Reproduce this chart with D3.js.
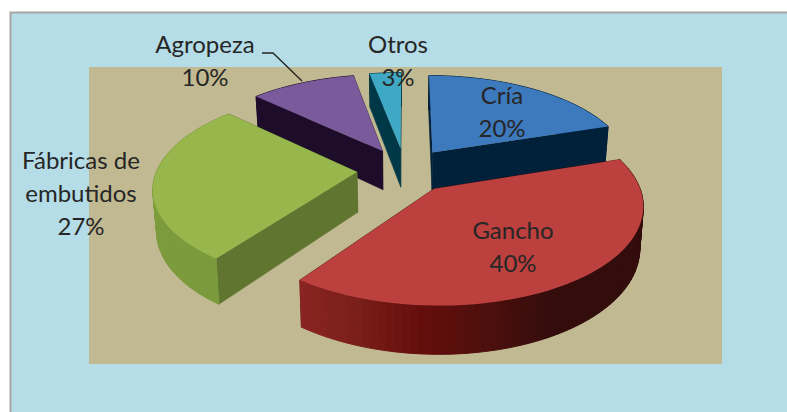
<!DOCTYPE html>
<html><head><meta charset="utf-8">
<script src="https://cdnjs.cloudflare.com/ajax/libs/d3/7.8.5/d3.min.js"></script>
<style>html,body{margin:0;padding:0;background:#fff}svg{display:block}text{font-family:Lato,"Open Sans",sans-serif;fill:#262626;font-size:24px;text-anchor:middle}</style>
</head><body><svg id="c" width="787" height="412"></svg>
<script>
const categories = ["Cría","Gancho","Fábricas de embutidos","Agropeza","Otros"];
const shares = [20,40,27,10,3];
const topColors = ["#3d79bd","#bb403e","#97b64b","#7b5a9b","#3fa8c4"];
const radialWallColors = ["#012039","#3a0d0d","#5f7530","#1d0d2b","#003847"];
const rimColors = [
  ["#012039","#012039"],
  ["#8a2421","#7a1f19","#640e0c","#4c0f0c","#340c0c","#330c0c","#330c0c","#330c0c","#330c0c","#330c0c"],
  ["#7d9c3c","#7d9c3c","#7a9a3c"],
  ["#1d0d2b","#1d0d2b"],
  ["#003847","#003847"]
];
const labelLines = [["Cría","20%"],["Gancho","40%"],["Fábricas de","embutidos","27%"],["Agropeza","10%"],["Otros","3%"]];
const labelAnchors = [[502,104],[513,239],[81,169],[205,53],[398,53]];

const svg = d3.select("#c");
svg.append("rect").attr("x",10.5).attr("y",12.5).attr("width",800).attr("height",420).attr("fill","#b5dde7").attr("stroke","#a6a6a6").attr("stroke-width",2);
svg.append("rect").attr("x",89).attr("y",67).attr("width",633).attr("height",297).attr("fill","#c1b991");

const cx=405, cy=170, R=200, ky=0.466, p=0.15, explode=48, depth=40, shrink=0.015;
const arcs = d3.pie().sort(null).value((d,i)=>shares[i]).startAngle(0).endAngle(2*Math.PI)(categories);
const line = d3.line();
function proj(a,r,bis,z){
  const X = explode*Math.sin(bis)+r*Math.sin(a), Y=-explode*Math.cos(bis)-r*Math.cos(a);
  const k = 1/(1-p*Y/R);
  return [cx+X*k*(1-shrink*z), cy+Y*ky*k+z*depth*k];
}
const order=[4,3,0,2,1];
order.forEach(i=>{
  const d=arcs[i], bis=(d.startAngle+d.endAngle)/2, g=svg.append("g");
  const N=Math.max(4,Math.round((d.endAngle-d.startAngle)*30));
  const angs=d3.range(N+1).map(j=>d.startAngle+(d.endAngle-d.startAngle)*j/N);
  [d.startAngle,d.endAngle].forEach(a=>{
    g.append("path").attr("d",line([proj(a,0,bis,0),proj(a,R,bis,0),proj(a,R,bis,1),proj(a,0,bis,1)])+"Z")
     .attr("fill",radialWallColors[i]).attr("stroke",radialWallColors[i]).attr("stroke-width",.5);
  });
  const rim=d3.scaleLinear().domain(rimColors[i].map((c,j,l)=>d.endAngle+(d.startAngle-d.endAngle)*j/(l.length-1))).range(rimColors[i]);
  d3.pairs(angs).forEach(([a,b])=>{
    const col=rim((a+b)/2);
    g.append("path").attr("d",line([proj(a,R,bis,0),proj(b,R,bis,0),proj(b,R,bis,1),proj(a,R,bis,1)])+"Z").attr("fill",col).attr("stroke",col).attr("stroke-width",1);
  });
  g.append("path").attr("d",line([proj(0,0,bis,0),...angs.map(a=>proj(a,R,bis,0))])+"Z").attr("fill",topColors[i]);
});
svg.append("path").attr("d",line([[262,53],[273,53],[302,81]])).attr("fill","none").attr("stroke","#262626").attr("stroke-width",1.4);
labelLines.forEach((ls,i)=>{
  const t=svg.append("text").attr("transform",`translate(${labelAnchors[i][0]},${labelAnchors[i][1]})`);
  ls.forEach((s,j)=>t.append("tspan").attr("x",0).attr("y",j*33).text(s));
});
</script></body></html>
